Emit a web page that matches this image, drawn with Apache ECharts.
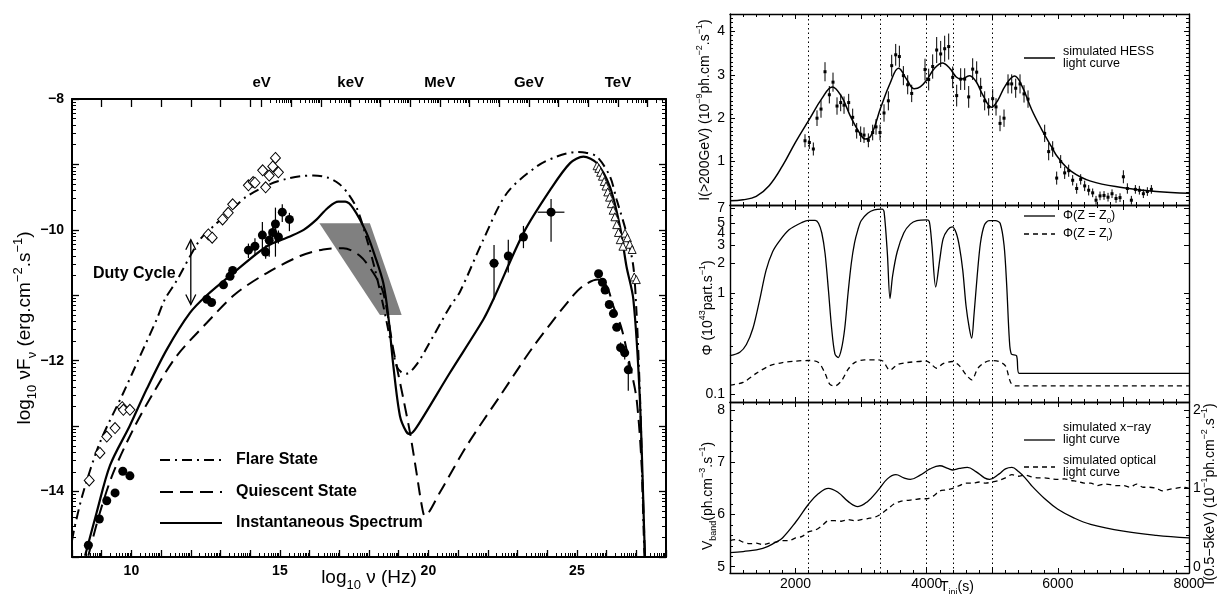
<!DOCTYPE html>
<html><head><meta charset="utf-8">
<script src="https://cdn.jsdelivr.net/npm/echarts@6/dist/echarts.min.js"></script>
<style>html,body{margin:0;padding:0;background:#fff}#c{width:1217px;height:594px}</style>
</head><body><div id="c"></div>
<script>
// ---------------- LEFT PANEL DATA (log10 nu, log10 nuFnu) ----------------
const flareCurve = [[8.0,-14.75],[8.1,-14.52],[8.38,-14.01],[8.94,-13.25],[9.73,-12.49],[10.29,-11.93],[10.85,-11.37],[11.13,-11.06],[11.52,-10.78],[12.31,-10.15],[12.87,-9.9],[13.43,-9.67],[13.88,-9.49],[14.67,-9.3],[15.23,-9.22],[15.7,-9.18],[16.13,-9.17],[16.6,-9.2],[17.0,-9.3],[17.3,-9.45],[17.6,-9.68],[17.9,-10.1],[18.2,-10.6],[18.5,-11.2],[18.75,-11.75],[18.95,-12.1],[19.1,-12.18],[19.25,-12.2],[19.6,-12.06],[20.17,-11.62],[20.73,-11.17],[21.06,-10.95],[21.85,-10.15],[22.64,-9.44],[23.65,-9.03],[24.32,-8.88],[25.0,-8.81],[25.3,-8.82],[25.67,-8.88],[26.11,-9.18],[26.34,-9.54],[26.67,-10.05],[26.9,-10.56],[27.0,-11.2],[27.08,-12.0],[27.15,-12.9],[27.24,-14.5],[27.3,-15.3]];
const quiescentCurve = [[8.55,-14.98],[8.94,-14.32],[9.39,-13.71],[10.06,-13.05],[10.74,-12.49],[11.52,-11.93],[12.54,-11.42],[13.5,-10.98],[14.56,-10.66],[15.68,-10.4],[16.46,-10.3],[17.13,-10.28],[17.7,-10.4],[18.15,-10.66],[18.48,-10.96],[18.82,-11.83],[19.16,-12.59],[19.38,-13.1],[19.6,-13.71],[19.78,-14.22],[19.88,-14.37],[20.39,-14.01],[21.29,-13.3],[22.41,-12.54],[23.54,-11.78],[24.77,-11.06],[25.2,-10.86],[25.7,-10.76],[26.0,-10.86],[26.23,-11.17],[26.5,-11.5],[26.79,-12.08],[27.01,-12.59],[27.18,-13.6],[27.29,-14.98],[27.31,-15.3]];
const instantCurve = [[8.44,-14.98],[8.83,-14.32],[9.28,-13.6],[9.95,-12.99],[10.52,-12.43],[11.19,-11.83],[11.97,-11.27],[12.54,-11.0],[13.43,-10.66],[14.56,-10.25],[15.34,-10.1],[15.8,-10.0],[16.24,-9.84],[16.6,-9.67],[16.97,-9.57],[17.2,-9.57],[17.47,-9.67],[17.92,-10.05],[18.2,-10.4],[18.48,-10.81],[18.65,-11.32],[18.82,-12.08],[19.04,-12.84],[19.25,-13.08],[19.38,-13.12],[19.6,-13.02],[20.73,-12.18],[21.85,-11.37],[22.19,-11.06],[23.2,-10.05],[24.1,-9.39],[24.77,-8.98],[25.22,-8.88],[25.67,-8.98],[26.11,-9.34],[26.45,-9.95],[26.67,-10.56],[26.9,-11.06],[27.12,-12.59],[27.29,-14.98],[27.32,-15.3]];
// quiescent observations: [logNu, logNuFnu, errDown, errUp, xErr]
const quiescentPts = [[8.55,-14.82,0,0,0],[8.92,-14.42,0,0,0],[9.17,-14.14,0,0,0],[9.45,-14.02,0,0,0],[9.71,-13.69,0,0,0],[9.95,-13.76,0,0,0],
 [12.54,-11.06,0,0,0],[12.7,-11.11,0,0,0],[13.1,-10.84,0,0,0],[13.32,-10.71,0,0,0],[13.41,-10.62,0,0,0],[13.94,-10.31,0.12,0.1,0],[14.16,-10.25,0.15,0.12,0],[14.41,-10.08,0.28,0.2,0],[14.52,-10.34,0.1,0.1,0],[14.64,-10.16,0.25,0.15,0],[14.76,-10.04,0.1,0.1,0],[14.85,-9.91,0.5,0.25,0],[14.95,-10.11,0.1,0.1,0],[15.08,-9.73,0.15,0.12,0],[15.32,-9.84,0.18,0.1,0],
 [22.21,-10.51,0.55,0.28,0.15],[22.69,-10.4,0.25,0.25,0.08],[23.2,-10.11,0.17,0.17,0.1],[24.13,-9.73,0.45,0.2,0.45],
 [25.73,-10.67,0,0,0],[25.86,-10.8,0,0,0],[25.95,-10.92,0,0,0],[26.09,-11.14,0,0,0],[26.23,-11.28,0,0,0],[26.34,-11.49,0,0,0],[26.47,-11.8,0.08,0.08,0],[26.61,-11.88,0.1,0.1,0],[26.73,-12.14,0.32,0.12,0]];
const flarePts = [[8.58,-13.83],[8.94,-13.41],[9.17,-13.16],[9.45,-13.03],[9.69,-12.71],[9.73,-12.75],[9.95,-12.75],[12.59,-10.07],[12.72,-10.12],[13.07,-9.84],[13.26,-9.74],[13.41,-9.61],[13.94,-9.32],[14.1,-9.27],[14.16,-9.28],[14.42,-9.09],[14.52,-9.35],[14.64,-9.17],[14.76,-9.03],[14.85,-8.9],[14.95,-9.12]];
const flareTeV = [[25.68,-9.02],[25.74,-9.06],[25.8,-9.12],[25.86,-9.18],[25.92,-9.26],[25.98,-9.33],[26.04,-9.42],[26.1,-9.5],[26.16,-9.6],[26.22,-9.7],[26.28,-9.8],[26.34,-9.92],[26.4,-10.04],[26.46,-10.15],[26.55,-10.25],[26.62,-10.05],[26.7,-10.12],[26.78,-10.22],[26.86,-10.3],[26.93,-10.72],[27.0,-10.76]];
const xrayBowtie = [[16.33,-9.9],[18.03,-9.9],[19.1,-11.3],[18.37,-11.3]];
const dutyCycle = [[12.0,-10.15,-11.14]];
const energyLabels = ['eV','keV','MeV','GeV','TeV'];
const xTickLabels = [10,15,20,25];
const yTickLabels = [-14,-12,-10,-8];

// ---------------- RIGHT PANELS DATA ----------------
const markTimes = [2200,3290,4000,4400,5000];
const hessCurve = [[1000,0.1],[1200,0.12],[1400,0.2],[1600,0.45],[1800,0.9],[2000,1.45],[2200,1.95],[2400,2.45],[2560,2.72],[2700,2.5],[2850,2.0],[3000,1.6],[3060,1.52],[3150,1.6],[3300,2.25],[3440,2.8],[3570,3.15],[3700,2.88],[3810,2.68],[3900,2.72],[4000,2.88],[4120,3.15],[4240,3.27],[4350,3.15],[4450,2.95],[4530,2.9],[4650,2.98],[4750,2.85],[4850,2.55],[4990,2.25],[5080,2.4],[5200,2.75],[5340,2.97],[5450,2.75],[5600,2.2],[5750,1.75],[5900,1.35],[6000,1.1],[6200,0.78],[6500,0.55],[7000,0.4],[7500,0.31],[8000,0.27]];
const hessT = [2144,2210,2271,2327,2388,2449,2515,2571,2632,2688,2739,2810,2871,2932,2993,3044,3110,3176,3227,3288,3349,3415,3466,3527,3583,3644,3710,3771,3974,4030,4091,4152,4213,4274,4335,4396,4457,4518,4579,4640,4701,4762,4823,4884,4945,5006,5057,5118,5179,5240,5296,5357,5423,5484,5545,5799,5860,5921,5982,6043,6104,6165,6226,6287,6348,6409,6470,6531,6582,6643,6704,6765,6826,6887,6948,6999,7060,7121,7182,7243,7304,7365,7426];
const hessI = [1.48,1.44,1.29,2.0,2.21,3.07,2.54,2.83,2.28,2.36,2.3,2.36,2.02,1.71,1.63,1.61,1.49,1.67,1.8,1.67,2.12,2.4,3.21,3.46,3.42,2.98,2.77,2.57,3.12,2.89,3.19,3.57,3.48,3.6,3.65,2.94,2.52,2.9,2.9,2.49,3.13,3.06,2.71,2.4,2.26,2.45,2.26,1.88,2.0,2.79,2.79,2.69,2.79,2.56,2.44,1.65,1.23,1.29,0.62,1.0,0.74,0.79,0.57,0.38,0.59,0.44,0.34,0.28,0.11,0.21,0.22,0.18,0.26,0.15,0.17,0.65,0.38,0.11,0.36,0.34,0.26,0.31,0.36];
const hessErr = [0.15,0.15,0.15,0.18,0.2,0.22,0.2,0.22,0.2,0.2,0.2,0.2,0.2,0.18,0.18,0.18,0.16,0.18,0.18,0.18,0.2,0.22,0.25,0.25,0.25,0.22,0.22,0.2,0.25,0.25,0.28,0.3,0.3,0.3,0.3,0.25,0.25,0.25,0.25,0.25,0.25,0.25,0.22,0.22,0.2,0.22,0.2,0.18,0.2,0.22,0.22,0.22,0.22,0.2,0.2,0.2,0.2,0.18,0.15,0.15,0.14,0.14,0.12,0.12,0.12,0.12,0.12,0.1,0.1,0.1,0.1,0.1,0.1,0.1,0.1,0.15,0.12,0.1,0.1,0.1,0.1,0.1,0.1];
const phiZ0 = [[1000,0.24],[1150,0.26],[1250,0.31],[1350,0.45],[1450,0.85],[1550,1.7],[1650,2.6],[1750,3.3],[1900,4.3],[2100,5.1],[2200,5.35],[2300,5.35],[2350,5.0],[2400,4.0],[2450,2.5],[2500,1.1],[2550,0.45],[2600,0.25],[2650,0.23],[2700,0.28],[2750,0.45],[2800,1.0],[2850,2.0],[2900,3.2],[2950,4.3],[3000,5.3],[3100,6.3],[3200,6.8],[3320,6.9],[3350,6.5],[3400,2.5],[3440,0.89],[3480,1.5],[3550,2.6],[3650,4.0],[3750,4.9],[3850,5.3],[4000,5.4],[4040,5.2],[4080,3.0],[4137,1.16],[4200,2.2],[4250,3.5],[4320,4.3],[4390,4.6],[4450,4.0],[4500,2.9],[4550,1.7],[4600,0.75],[4650,0.45],[4686,0.36],[4720,0.6],[4770,1.5],[4820,3.2],[4880,4.8],[4950,5.3],[5050,5.3],[5120,5.0],[5180,3.0],[5220,1.2],[5260,0.35],[5290,0.25],[5370,0.24],[5410,0.16],[8000,0.16]];
const phiZi = [[1000,0.122],[1200,0.13],[1400,0.16],[1600,0.19],[1800,0.205],[2000,0.212],[2200,0.215],[2350,0.205],[2450,0.16],[2520,0.125],[2600,0.12],[2700,0.135],[2800,0.175],[2900,0.205],[3050,0.218],[3250,0.218],[3330,0.212],[3440,0.172],[3550,0.195],[3700,0.205],[4000,0.212],[4060,0.2],[4150,0.18],[4250,0.2],[4390,0.21],[4500,0.19],[4600,0.155],[4686,0.138],[4780,0.18],[4880,0.205],[4990,0.215],[5100,0.21],[5200,0.19],[5280,0.13],[5350,0.12],[8000,0.12]];
const phiTickLabels = ['0.1','1','2','3','4','5','7'];
const xrayCurve = [[1000,0.18],[1200,0.193],[1500,0.233],[1700,0.313],[1800,0.367],[2000,0.567],[2200,0.8],[2350,0.933],[2500,1.0],[2650,0.947],[2800,0.833],[2950,0.767],[3100,0.833],[3250,0.967],[3400,1.12],[3530,1.173],[3650,1.133],[3750,1.113],[3900,1.167],[4050,1.247],[4200,1.287],[4320,1.253],[4400,1.233],[4500,1.253],[4620,1.267],[4750,1.213],[4880,1.133],[4960,1.113],[5100,1.18],[5200,1.247],[5300,1.267],[5400,1.213],[5500,1.133],[5600,1.033],[5800,0.867],[6000,0.733],[6250,0.62],[6500,0.54],[7000,0.453],[7500,0.4],[8000,0.367]];
const opticalCurve = [[1000,5.5],[1100,5.52],[1200,5.47],[1300,5.44],[1400,5.45],[1500,5.42],[1600,5.45],[1700,5.47],[1800,5.5],[1900,5.5],[2000,5.55],[2100,5.58],[2200,5.67],[2300,5.7],[2400,5.78],[2500,5.88],[2600,5.88],[2700,5.87],[2800,5.9],[2900,5.88],[3000,5.9],[3100,5.92],[3250,5.97],[3400,6.1],[3500,6.2],[3600,6.25],[3700,6.27],[3800,6.28],[3900,6.3],[4000,6.3],[4100,6.35],[4200,6.45],[4300,6.47],[4400,6.5],[4500,6.55],[4600,6.6],[4700,6.6],[4800,6.62],[4900,6.6],[5000,6.62],[5100,6.65],[5200,6.7],[5300,6.76],[5400,6.73],[5500,6.75],[5600,6.72],[5700,6.7],[5800,6.7],[5900,6.68],[6000,6.67],[6100,6.68],[6200,6.65],[6300,6.63],[6400,6.6],[6500,6.6],[6600,6.55],[6700,6.58],[6800,6.57],[6900,6.55],[7000,6.55],[7100,6.52],[7200,6.58],[7300,6.52],[7400,6.52],[7500,6.5],[7600,6.45],[7700,6.48],[7800,6.5],[7900,6.52],[8000,6.5]];
const vbandTickLabels = [5,6,7,8];
const ixTickLabels = [0,1,2];
const timeTickLabels = [2000,4000,6000,8000];

// ---------------- helpers ----------------
const FONT = '"Liberation Sans", Arial, Helvetica, sans-serif';
const log10 = Math.log10;
const PHI_MIN = 0.083, PHI_MAX = 7.6;
const phiLabelVals = phiTickLabels.map(Number);

const LOGEV = log10(2.418e14);
const energyPos = energyLabels.map((_, i) => LOGEV + 3 * i);
const leftMinorX = []; for (let n = 8; n < 28; n++) for (let k = 2; k <= 9; k++) leftMinorX.push(n + log10(k));
const leftMinorY = []; for (let n = -15; n < -8; n++) for (let k = 2; k <= 9; k++) leftMinorY.push(n + log10(k));
const topMajor = [9, 10, 11, 12, 13, 14]; const topMinor = [];
for (let i = 0; LOGEV + i <= 28; i++) { const d = LOGEV + i; topMajor.push(d); for (let k = 2; k <= 9; k++) if (d + log10(k) <= 28) topMinor.push(d + log10(k)); }
const phiMinor = []; [0.2,0.3,0.4,0.5,0.6,0.7,0.8,0.9,6].forEach(v => phiMinor.push(log10(v)));
const phiMajor = phiLabelVals.map(v => log10(v));
const vbMinor = []; for (let i = 1; i <= 15; i++) { const v = 5 + i * 0.2; if (Math.abs(v - Math.round(v)) > 1e-6 && v < 8.15) vbMinor.push(+v.toFixed(2)); }
const ixMinor = []; for (let i = 1; i <= 21; i++) { const v = i * 0.1; if (Math.abs(v - Math.round(v)) > 1e-6 && v < 2.1) ixMinor.push(+v.toFixed(2)); }

function near(arr, v) { return arr.findIndex(p => Math.abs(p - v) < 1e-6); }

function mkAxis(o) {
  const a = {
    type: o.type || 'value', gridIndex: o.grid, position: o.pos, min: o.min, max: o.max,
    splitLine: { show: false },
    axisLine: { show: o.line !== false, onZero: false, lineStyle: { color: '#000', width: o.lw || 1.4 } },
    axisTick: { show: o.ticks !== false, inside: true, length: o.tl || 5, lineStyle: { color: '#000', width: o.tw || 1 } },
    axisLabel: { show: !!(o.fmt || o.labels), color: '#000', fontFamily: FONT, fontSize: o.fs || 14, fontWeight: o.fw || 'normal', margin: o.margin == null ? 6 : o.margin },
    minorTick: { show: !!o.minor, splitNumber: o.minor || 5, length: o.ml || 3, lineStyle: { color: '#000', width: 1 } },
    minorSplitLine: { show: false },
    axisPointer: { show: false }
  };
  if (o.interval != null) a.interval = o.interval;
  if (o.tickValues) a.axisTick.customValues = o.tickValues;
  if (o.labels) a.axisLabel.customValues = o.labels;
  if (o.fmt) a.axisLabel.formatter = o.fmt;
  return a;
}

const G0 = { left: 72, top: 99, width: 594, height: 458 };
const grids = [G0,
  { left: 730, top: 14, width: 459, height: 191 },
  { left: 730, top: 205, width: 459, height: 197 },
  { left: 730, top: 402, width: 459, height: 171 }];

const xAxis = [
  mkAxis({ grid: 0, pos: 'bottom', min: 8, max: 28, interval: 1, lw: 2, tl: 7, tw: 1.3, fw: 'bold', margin: 7,
    fmt: v => (xTickLabels.indexOf(Math.round(v)) >= 0 && Math.abs(v - Math.round(v)) < 1e-6) ? String(Math.round(v)) : '' }),
  mkAxis({ grid: 0, pos: 'bottom', min: 8, max: 28, line: false, tl: 4, tickValues: leftMinorX }),
  mkAxis({ grid: 0, pos: 'top', min: 8, max: 28, lw: 2, tl: 8, tw: 1.3, tickValues: topMajor, labels: energyPos, fw: 'bold', fs: 15, margin: 9,
    fmt: v => { const i = near(energyPos, v); return i >= 0 ? energyLabels[i] : ''; } }),
  mkAxis({ grid: 0, pos: 'top', min: 8, max: 28, line: false, tl: 4, tickValues: topMinor }),
  mkAxis({ grid: 1, pos: 'bottom', min: 1000, max: 8000, interval: 1000, minor: 5 }),
  mkAxis({ grid: 1, pos: 'top', min: 1000, max: 8000, interval: 1000, minor: 5 }),
  mkAxis({ grid: 2, pos: 'bottom', min: 1000, max: 8000, interval: 1000, minor: 5 }),
  mkAxis({ grid: 2, pos: 'top', min: 1000, max: 8000, interval: 1000, minor: 5 }),
  mkAxis({ grid: 3, pos: 'bottom', min: 1000, max: 8000, interval: 1000, minor: 5, margin: 4,
    fmt: v => timeTickLabels.indexOf(v) >= 0 ? String(v) : '' }),
  mkAxis({ grid: 3, pos: 'top', min: 1000, max: 8000, interval: 1000, minor: 5 })
];

const yAxis = [
  mkAxis({ grid: 0, pos: 'left', min: -15, max: -8, interval: 1, lw: 2, tl: 7, tw: 1.3, fw: 'bold', margin: 8,
    fmt: v => yTickLabels.indexOf(Math.round(v)) >= 0 ? '\u2212' + Math.abs(Math.round(v)) : '' }),
  mkAxis({ grid: 0, pos: 'left', min: -15, max: -8, line: false, tl: 4, tickValues: leftMinorY }),
  mkAxis({ grid: 0, pos: 'right', min: -15, max: -8, interval: 1, lw: 2, tl: 7, tw: 1.3 }),
  mkAxis({ grid: 0, pos: 'right', min: -15, max: -8, line: false, tl: 4, tickValues: leftMinorY }),
  mkAxis({ grid: 1, pos: 'left', min: 0, max: 4.4, interval: 1, minor: 10, margin: 5,
    fmt: v => (v >= 1 && v <= 4 && Math.abs(v - Math.round(v)) < 1e-6) ? String(v) : '' }),
  mkAxis({ grid: 1, pos: 'right', min: 0, max: 4.4, interval: 1, minor: 10 }),
  { type: 'log', logBase: 10, gridIndex: 2, min: PHI_MIN, max: PHI_MAX, show: false },
  mkAxis({ grid: 2, pos: 'left', min: log10(PHI_MIN), max: log10(PHI_MAX), tickValues: phiMajor, labels: phiMajor, margin: 5,
    fmt: v => { const i = near(phiMajor, v); return i >= 0 ? phiTickLabels[i] : ''; } }),
  mkAxis({ grid: 2, pos: 'left', min: log10(PHI_MIN), max: log10(PHI_MAX), line: false, tl: 3, tickValues: phiMinor }),
  mkAxis({ grid: 2, pos: 'right', min: log10(PHI_MIN), max: log10(PHI_MAX), tickValues: phiMajor }),
  mkAxis({ grid: 2, pos: 'right', min: log10(PHI_MIN), max: log10(PHI_MAX), line: false, tl: 3, tickValues: phiMinor }),
  mkAxis({ grid: 3, pos: 'left', min: 4.88, max: 8.15, tickValues: vbandTickLabels, labels: vbandTickLabels, margin: 5, fmt: v => String(v) }),
  mkAxis({ grid: 3, pos: 'left', min: 4.88, max: 8.15, line: false, tl: 3, tickValues: vbMinor }),
  mkAxis({ grid: 3, pos: 'right', min: -0.08, max: 2.1, tickValues: ixTickLabels, labels: ixTickLabels, margin: 4, fmt: v => String(v) }),
  mkAxis({ grid: 3, pos: 'right', min: -0.08, max: 2.1, line: false, tl: 3, tickValues: ixMinor })
];

function errRender(width) {
  return function (params, api) {
    const x = api.value(0), y = api.value(1), lo = api.value(2), hi = api.value(3), xe = api.value(4);
    const ch = [];
    if (hi !== lo) {
      const p1 = api.coord([x, lo]), p2 = api.coord([x, hi]);
      ch.push({ type: 'line', shape: { x1: p1[0], y1: p1[1], x2: p2[0], y2: p2[1] }, style: { stroke: '#000', lineWidth: width } });
    }
    if (xe > 0) {
      const q1 = api.coord([x - xe, y]), q2 = api.coord([x + xe, y]);
      ch.push({ type: 'line', shape: { x1: q1[0], y1: q1[1], x2: q2[0], y2: q2[1] }, style: { stroke: '#000', lineWidth: width } });
    }
    return { type: 'group', children: ch };
  };
}
const markLineCfg = {
  silent: true, symbol: 'none', label: { show: false }, animation: false,
  lineStyle: { type: [1.5, 3], color: '#000', width: 1, opacity: 1 },
  data: markTimes.map(t => ({ xAxis: t }))
};

const series = [
  { type: 'custom', xAxisIndex: 0, yAxisIndex: 0, z: 1, data: xrayBowtie, clip: true,
    renderItem: (p, api) => p.dataIndex === 0 ? { type: 'polygon', shape: { points: xrayBowtie.map(pt => api.coord(pt)) }, style: { fill: '#808080' } } : null },
  { type: 'line', xAxisIndex: 0, yAxisIndex: 0, data: flareCurve, symbol: 'none', smooth: 0.3, z: 3, lineStyle: { color: '#000', width: 2, type: [10, 5, 2, 5] } },
  { type: 'line', xAxisIndex: 0, yAxisIndex: 0, data: quiescentCurve, symbol: 'none', smooth: 0.3, z: 3, lineStyle: { color: '#000', width: 2, type: [13, 7] } },
  { type: 'line', xAxisIndex: 0, yAxisIndex: 0, data: instantCurve, symbol: 'none', smooth: 0.3, z: 3, lineStyle: { color: '#000', width: 2.2 } },
  { type: 'custom', xAxisIndex: 0, yAxisIndex: 0, z: 4, renderItem: errRender(1.2),
    data: quiescentPts.map(p => [p[0], p[1], p[1] - p[2], p[1] + p[3], p[4]]) },
  { type: 'scatter', xAxisIndex: 0, yAxisIndex: 0, z: 5, symbol: 'circle', symbolSize: 9, itemStyle: { color: '#000', opacity: 1 },
    data: quiescentPts.map(p => [p[0], p[1]]) },
  { type: 'scatter', xAxisIndex: 0, yAxisIndex: 0, z: 5, symbol: 'diamond', symbolSize: [10, 11], itemStyle: { color: '#fff', borderColor: '#000', borderWidth: 1, opacity: 1 }, data: flarePts },
  { type: 'scatter', xAxisIndex: 0, yAxisIndex: 0, z: 5, symbol: 'triangle', symbolSize: 8, itemStyle: { color: '#fff', borderColor: '#000', borderWidth: 0.9, opacity: 1 }, data: flareTeV },
  { type: 'custom', xAxisIndex: 0, yAxisIndex: 0, z: 6, data: dutyCycle,
    renderItem: (p, api) => {
      const a = api.coord([api.value(0), api.value(1)]), b = api.coord([api.value(0), api.value(2)]);
      const s = { stroke: '#000', lineWidth: 1.3, fill: null };
      return { type: 'group', children: [
        { type: 'line', shape: { x1: a[0], y1: a[1], x2: b[0], y2: b[1] }, style: s },
        { type: 'polyline', shape: { points: [[a[0] - 5, a[1] + 10], [a[0], a[1]], [a[0] + 5, a[1] + 10]] }, style: s },
        { type: 'polyline', shape: { points: [[b[0] - 5, b[1] - 10], [b[0], b[1]], [b[0] + 5, b[1] - 10]] }, style: s }
      ] };
    } },
  // right top
  { type: 'line', xAxisIndex: 4, yAxisIndex: 4, data: hessCurve, symbol: 'none', smooth: 0.4, z: 3, lineStyle: { color: '#000', width: 1.5 }, markLine: markLineCfg },
  { type: 'custom', xAxisIndex: 4, yAxisIndex: 4, z: 4, renderItem: errRender(1),
    data: hessT.map((t, i) => [t, hessI[i], hessI[i] - hessErr[i], hessI[i] + hessErr[i], 0]) },
  { type: 'scatter', xAxisIndex: 4, yAxisIndex: 4, z: 5, symbol: 'rect', symbolSize: 3, itemStyle: { color: '#000', opacity: 1 },
    data: hessT.map((t, i) => [t, hessI[i]]) },
  // right middle
  { type: 'line', xAxisIndex: 6, yAxisIndex: 6, data: phiZ0, symbol: 'none', smooth: 0.3, z: 3, lineStyle: { color: '#000', width: 1.3 }, markLine: markLineCfg },
  { type: 'line', xAxisIndex: 6, yAxisIndex: 6, data: phiZi, symbol: 'none', smooth: 0.3, z: 3, lineStyle: { color: '#000', width: 1.3, type: [5, 4] } },
  // right bottom
  { type: 'line', xAxisIndex: 8, yAxisIndex: 13, data: xrayCurve, symbol: 'none', smooth: 0.4, z: 3, lineStyle: { color: '#000', width: 1.3 }, markLine: markLineCfg },
  { type: 'line', xAxisIndex: 8, yAxisIndex: 11, data: opticalCurve, symbol: 'none', smooth: 0.3, z: 3, lineStyle: { color: '#000', width: 1.3, type: [5, 4] } }
];

function rich(fs) {
  return {
    a: { fontSize: fs, fontFamily: FONT, fill: '#000', lineHeight: Math.round(fs * 1.4) },
    sup: { fontSize: Math.round(fs * 0.66), fontFamily: FONT, fill: '#000', verticalAlign: 'top' },
    sub: { fontSize: Math.round(fs * 0.66), fontFamily: FONT, fill: '#000', verticalAlign: 'bottom' }
  };
}
function rtext(x, y, text, fs, rot, align) {
  return { type: 'text', x: x, y: y, rotation: rot || 0, z: 10,
    style: { text: text, rich: rich(fs), align: align || 'center', verticalAlign: 'middle', fontSize: fs, fontFamily: FONT, fill: '#000' } };
}
function btext(x, y, text, fs) {
  return { type: 'text', x: x, y: y, z: 10, style: { text: text, fontSize: fs, fontWeight: 'bold', fontFamily: FONT, fill: '#000', align: 'left', verticalAlign: 'middle' } };
}
function gline(x1, y1, x2, y2, dash, w) {
  return { type: 'line', z: 10, shape: { x1: x1, y1: y1, x2: x2, y2: y2 }, style: { stroke: '#000', lineWidth: w || 2, lineDash: dash || null } };
}
function ptext(x, y, text, fs) {
  return { type: 'text', x: x, y: y, z: 10, style: { text: text, fontSize: fs, fontFamily: FONT, fill: '#000', align: 'left', verticalAlign: 'middle' } };
}
const R90 = Math.PI / 2;
const graphic = [
  // left panel texts
  btext(93, 274, 'Duty Cycle', 16),
  gline(160, 460, 222, 460, [10, 5, 2, 5], 2), btext(236, 460, 'Flare State', 16),
  gline(160, 492, 222, 492, [13, 7], 2), btext(236, 492, 'Quiescent State', 16),
  gline(160, 523, 222, 523, null, 2.2), btext(236, 523, 'Instantaneous Spectrum', 16),
  rtext(25, 328, '{a|log}{sub|10}{a| νF}{sub|ν}{a| (erg.cm}{sup|−2}{a|.s}{sup|−1}{a|)}', 19, R90),
  rtext(369, 578, '{a|log}{sub|10}{a| ν (Hz)}', 19, 0),
  // right panel titles
  rtext(705, 110, '{a|I(>200GeV) (10}{sup|−9}{a|ph.cm}{sup|−2}{a|.s}{sup|−1}{a|)}', 14, R90),
  rtext(708, 308, '{a|Φ (10}{sup|43}{a|part.s}{sup|−1}{a|)}', 14, R90),
  rtext(708, 496, '{a|V}{sub|band}{a|(ph.cm}{sup|−3}{a|.s}{sup|−1}{a|)}', 14, R90),
  rtext(1210, 494, '{a|I(0.5−5keV) (10}{sup|−1}{a|ph.cm}{sup|−2}{a|.s}{sup|−1}{a|)}', 14, R90),
  rtext(957, 587, '{a|T}{sub|ini}{a|(s)}', 14, 0),
  // right legends
  gline(1024, 58, 1055, 58, null, 1.5), ptext(1063, 52, 'simulated HESS', 12.5), ptext(1063, 64, 'light curve', 12.5),
  gline(1024, 216, 1055, 216, null, 1.3), rtext(1063, 216, '{a|Φ(Z = Z}{sub|0}{a|)}', 12.5, 0, 'left'),
  gline(1024, 234, 1055, 234, [5, 4], 1.3), rtext(1063, 234, '{a|Φ(Z = Z}{sub|i}{a|)}', 12.5, 0, 'left'),
  gline(1024, 440, 1055, 440, null, 1.3), ptext(1063, 428, 'simulated x−ray', 12.5), ptext(1063, 440, 'light curve', 12.5),
  gline(1024, 467, 1055, 467, [5, 4], 1.3), ptext(1063, 461, 'simulated optical', 12.5), ptext(1063, 473, 'light curve', 12.5)
];

const chart = echarts.init(document.getElementById('c'));
chart.setOption({
  animation: false, backgroundColor: '#fff',
  textStyle: { fontFamily: FONT },
  grid: grids, xAxis: xAxis, yAxis: yAxis, series: series, graphic: graphic
});
</script></body></html>
